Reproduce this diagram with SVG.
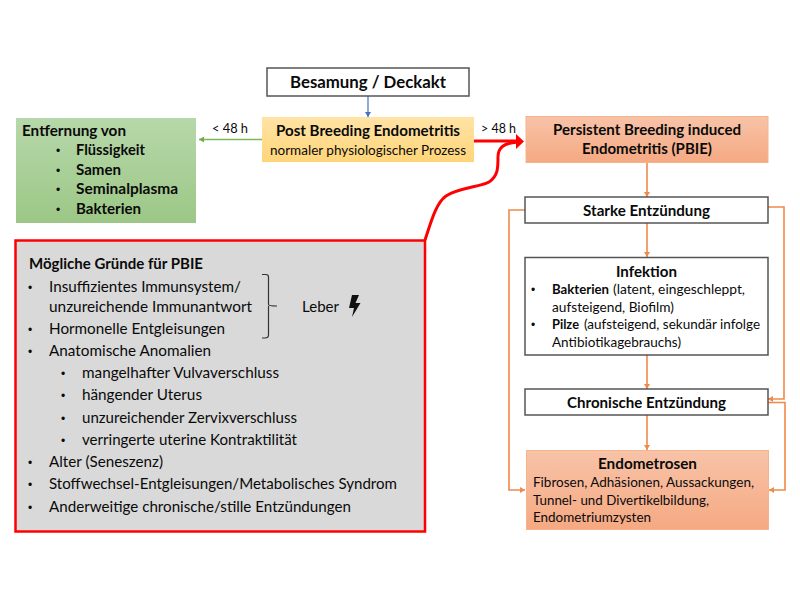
<svg xmlns="http://www.w3.org/2000/svg" width="800" height="600" viewBox="0 0 800 600">
<style>
text{font-family:Lato,"Liberation Sans",sans-serif;fill:#0a0a0a;font-size:15px}
.b{font-weight:700}
.d{font-family:"Liberation Sans",sans-serif;font-size:12px}
.box{fill:#fff;stroke:#555;stroke-width:1.5}
.or{fill:none;stroke:#f0894a;stroke-width:1.6}
.c{text-anchor:middle}
</style>
<defs>
<linearGradient id="gy" x1="0" y1="0" x2="0" y2="1"><stop offset="0" stop-color="#ffe3a6"/><stop offset="1" stop-color="#ffd578"/></linearGradient>
<linearGradient id="gg" x1="0" y1="0" x2="0" y2="1"><stop offset="0" stop-color="#b7d8aa"/><stop offset="1" stop-color="#9cc786"/></linearGradient>
<linearGradient id="go" x1="0" y1="0" x2="0" y2="1"><stop offset="0" stop-color="#f8c3a8"/><stop offset="1" stop-color="#f5a982"/></linearGradient>
<marker id="ao" markerUnits="userSpaceOnUse" markerWidth="6" markerHeight="6" refX="5" refY="3" orient="auto"><path d="M0 0L5 3L0 6z" fill="#f0894a"/></marker>
<marker id="ab" markerUnits="userSpaceOnUse" markerWidth="6" markerHeight="6" refX="5" refY="3" orient="auto"><path d="M0 0L5 3L0 6z" fill="#4472c4"/></marker>
<marker id="ag" markerUnits="userSpaceOnUse" markerWidth="6" markerHeight="6" refX="5" refY="3" orient="auto"><path d="M0 0L5 3L0 6z" fill="#70ad47"/></marker>
</defs>
<g id="connectors">
<path d="M368 96V117" fill="none" stroke="#4472c4" stroke-width="1.2" marker-end="url(#ab)"/>
<path d="M262 139.500H199" fill="none" stroke="#7cb75a" stroke-width="1.5" marker-end="url(#ag)"/>
<path class="or" d="M647 162V197" marker-end="url(#ao)"/>
<path class="or" d="M647 223V257" marker-end="url(#ao)"/>
<path class="or" d="M647 355V389" marker-end="url(#ao)"/>
<path class="or" d="M647 415V450" marker-end="url(#ao)"/>
<path class="or" d="M525 210H509V490H525" marker-end="url(#ao)"/>
<path class="or" d="M768 207H784V399H768" marker-end="url(#ao)"/>
<path class="or" d="M768 402.500H785V490H769" marker-end="url(#ao)"/>
<path d="M474 141H518" fill="none" stroke="#f00" stroke-width="3"/>
<path d="M425 240C431 222 436 203 446 196C458 188 480 187 489 182C498 176 498 168 498 157C498 148 503 143 518 142" fill="none" stroke="#f00" stroke-width="3"/>
<path d="M516 134L524 141.500L516 149z" fill="#f00"/>
</g>
<g id="besamung"><rect class="box" x="267" y="68" width="202" height="28"/><text class="b" x="290" y="88" style="font-size:17px" textLength="156" lengthAdjust="spacingAndGlyphs">Besamung / Deckakt</text></g>
<g id="pbe"><rect x="262" y="117" width="212" height="45" fill="url(#gy)"/><text class="b" x="276" y="136" textLength="184" lengthAdjust="spacingAndGlyphs">Post Breeding Endometritis</text><text x="270" y="155" style="font-size:13.500px" textLength="196" lengthAdjust="spacingAndGlyphs">normaler physiologischer Prozess</text></g>
<g id="entfernung"><rect x="16" y="118" width="180" height="105" fill="url(#gg)"/>
<text class="b" x="22" y="136" textLength="104" lengthAdjust="spacingAndGlyphs">Entfernung von</text>
<text class="d" x="56" y="155">•</text><text class="b" x="76" y="155" textLength="69" lengthAdjust="spacingAndGlyphs">Flüssigkeit</text>
<text class="d" x="56" y="175">•</text><text class="b" x="76" y="175" textLength="45" lengthAdjust="spacingAndGlyphs">Samen</text>
<text class="d" x="56" y="194">•</text><text class="b" x="76" y="194" textLength="102" lengthAdjust="spacingAndGlyphs">Seminalplasma</text>
<text class="d" x="56" y="214">•</text><text class="b" x="76" y="214" textLength="65" lengthAdjust="spacingAndGlyphs">Bakterien</text></g>
<text id="lt48" x="212" y="133" style="font-size:13.500px" textLength="36" lengthAdjust="spacingAndGlyphs">&lt; 48 h</text>
<text id="gt48" x="481" y="133" style="font-size:13.500px" textLength="35" lengthAdjust="spacingAndGlyphs">&gt; 48 h</text>
<g id="pbie"><rect x="526" y="116.500" width="242" height="46" fill="url(#go)" stroke="#f6b48c"/>
<text class="b" x="553" y="135" textLength="188" lengthAdjust="spacingAndGlyphs">Persistent Breeding induced</text>
<text class="b" x="582" y="154" textLength="130" lengthAdjust="spacingAndGlyphs">Endometritis (PBIE)</text></g>
<g id="starke"><rect class="box" x="525" y="197" width="243" height="26"/><text class="b" x="583" y="216" textLength="127" lengthAdjust="spacingAndGlyphs">Starke Entzündung</text></g>
<g id="infektion"><rect class="box" x="525" y="257.500" width="243" height="97.500"/>
<text class="b" x="616" y="277" style="font-size:15.500px" textLength="61" lengthAdjust="spacingAndGlyphs">Infektion</text>
<text class="d" x="531" y="294">•</text><text class="b" x="552" y="294" style="font-size:13.500px" textLength="57" lengthAdjust="spacingAndGlyphs">Bakterien</text><text x="613" y="294" style="font-size:13.500px" textLength="132" lengthAdjust="spacingAndGlyphs">(latent, eingeschleppt,</text>
<text x="552" y="312" style="font-size:13.500px" textLength="122" lengthAdjust="spacingAndGlyphs">aufsteigend, Biofilm)</text>
<text class="d" x="531" y="329">•</text><text class="b" x="552" y="329" style="font-size:13.500px" textLength="27" lengthAdjust="spacingAndGlyphs">Pilze</text><text x="584" y="329" style="font-size:13.500px" textLength="176" lengthAdjust="spacingAndGlyphs">(aufsteigend, sekundär infolge</text>
<text x="552" y="347" style="font-size:13.500px" textLength="129" lengthAdjust="spacingAndGlyphs">Antibiotikagebrauchs)</text></g>
<g id="chronisch"><rect class="box" x="525" y="389" width="243" height="26"/><text class="b" x="567" y="408" textLength="159" lengthAdjust="spacingAndGlyphs">Chronische Entzündung</text></g>
<g id="endometrosen"><rect x="526.500" y="450.500" width="242" height="79" fill="url(#go)" stroke="#f6b48c"/>
<text class="b" x="598" y="469" style="font-size:15.500px" textLength="99" lengthAdjust="spacingAndGlyphs">Endometrosen</text>
<text x="533" y="487" style="font-size:14px" textLength="221" lengthAdjust="spacingAndGlyphs">Fibrosen, Adhäsionen, Aussackungen,</text>
<text x="533" y="505" style="font-size:14px" textLength="176" lengthAdjust="spacingAndGlyphs">Tunnel- und Divertikelbildung,</text>
<text x="533" y="522" style="font-size:14px" textLength="118" lengthAdjust="spacingAndGlyphs">Endometriumzysten</text></g>
<g id="gruende"><rect x="15.500" y="240.500" width="409.500" height="291" fill="#d9d9d9" stroke="#f00" stroke-width="2.500"/>
<text class="b" x="29" y="269" textLength="174" lengthAdjust="spacingAndGlyphs">Mögliche Gründe für PBIE</text>
<text class="d" x="28" y="292">•</text><text x="49" y="292" textLength="192" lengthAdjust="spacingAndGlyphs">Insuffizientes Immunsystem/</text>
<text x="49" y="312" textLength="203" lengthAdjust="spacingAndGlyphs">unzureichende Immunantwort</text>
<text class="d" x="28" y="334">•</text><text x="49" y="334" textLength="176" lengthAdjust="spacingAndGlyphs">Hormonelle Entgleisungen</text>
<text class="d" x="28" y="356">•</text><text x="49" y="356" textLength="162" lengthAdjust="spacingAndGlyphs">Anatomische Anomalien</text>
<text class="d" x="61" y="378">•</text><text x="82" y="378" textLength="197" lengthAdjust="spacingAndGlyphs">mangelhafter Vulvaverschluss</text>
<text class="d" x="61" y="400">•</text><text x="82" y="400" textLength="120" lengthAdjust="spacingAndGlyphs">hängender Uterus</text>
<text class="d" x="61" y="423">•</text><text x="82" y="423" textLength="215" lengthAdjust="spacingAndGlyphs">unzureichender Zervixverschluss</text>
<text class="d" x="61" y="445">•</text><text x="82" y="445" textLength="215" lengthAdjust="spacingAndGlyphs">verringerte uterine Kontraktilität</text>
<text class="d" x="28" y="467">•</text><text x="49" y="467" textLength="114" lengthAdjust="spacingAndGlyphs">Alter (Seneszenz)</text>
<text class="d" x="28" y="489">•</text><text x="49" y="489" textLength="348" lengthAdjust="spacingAndGlyphs">Stoffwechsel-Entgleisungen/Metabolisches Syndrom</text>
<text class="d" x="28" y="512">•</text><text x="49" y="512" textLength="302" lengthAdjust="spacingAndGlyphs">Anderweitige chronische/stille Entzündungen</text>
<path d="M262 274.500H266Q268.500 274.500 268.500 277V304.500Q268.500 306 277 306M268.500 306V335Q268.500 338 265 338H262" fill="none" stroke="#333" stroke-width="1.200"/>
<text x="302" y="312" textLength="37" lengthAdjust="spacingAndGlyphs">Leber</text>
<path d="M352 295H359L355.500 303H360.500L352 317L354 308H349z" fill="#111"/></g>
</svg>
